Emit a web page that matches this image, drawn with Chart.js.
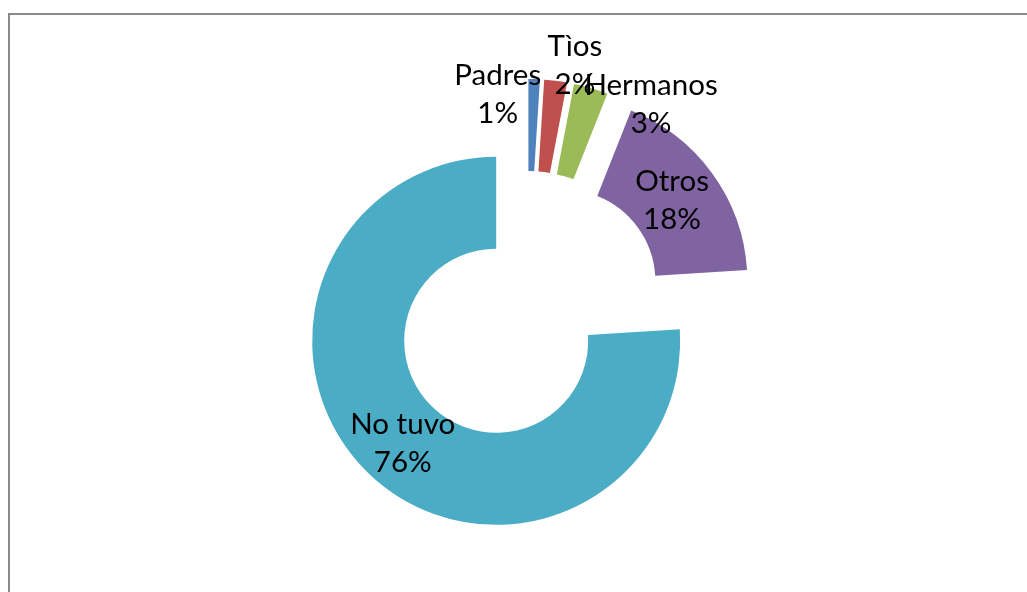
<!DOCTYPE html>
<html>
<head>
<meta charset="utf-8">
<script src="https://cdn.jsdelivr.net/npm/chart.js@4/dist/chart.umd.min.js"></script>
<style>
  body { margin: 0; background: #ffffff; }
  canvas { display: block; }
</style>
</head>
<body>
<canvas id="myChart" width="1027" height="592"></canvas>
<script>
// values (percent of answers)
const categories = ["Padres", "Tìos", "Hermanos", "Otros", "No tuvo"];
const values = [1, 2, 3, 18, 76];
const colors = ["#4F81BD", "#C0504D", "#9BBB59", "#8064A2", "#4BACC6"];

// how far every slice is pulled out from the centre (px)
const EXPLODE = 45;
// label nudges, Excel moved the small ones away from each other
const labelNudge = [[-35, -31], [25, -61], [73, -28], [-3, 0], [1, 2]];

const total = values.reduce((a, b) => a + b, 0);

const framePlugin = {
  id: "frame",
  beforeDraw(chart) {
    const ctx = chart.ctx;
    ctx.save();
    ctx.fillStyle = "#8a8a8a";
    ctx.fillRect(8, 13, 2, chart.height - 13);
    ctx.fillRect(8, 13, chart.width - 8, 2);
    ctx.restore();
  },
};

const explodePlugin = {
  id: "explode",
  beforeDatasetDraw(chart, args) {
    const ctx = chart.ctx;
    args.meta.data.forEach((arc) => {
      const mid = (arc.startAngle + arc.endAngle) / 2;
      ctx.save();
      ctx.translate(Math.cos(mid) * EXPLODE, Math.sin(mid) * EXPLODE);
      arc.draw(ctx);
      ctx.restore();
    });
    return false;
  },
  afterDatasetsDraw(chart) {
    const ctx = chart.ctx;
    const meta = chart.getDatasetMeta(0);
    ctx.save();
    ctx.font = "29.5px Lato, 'Open Sans', sans-serif";
    ctx.fillStyle = "#000000";
    ctx.textAlign = "center";
    ctx.textBaseline = "middle";
    meta.data.forEach((arc, i) => {
      const mid = (arc.startAngle + arc.endAngle) / 2;
      const pos = arc.tooltipPosition();
      const x = pos.x + Math.cos(mid) * EXPLODE + labelNudge[i][0];
      const y = pos.y + Math.sin(mid) * EXPLODE + labelNudge[i][1];
      const pct = Math.round((values[i] / total) * 100) + "%";
      ctx.fillText(categories[i], x, y - 19);
      ctx.fillText(pct, x, y + 19);
    });
    ctx.restore();
  },
};

const ctx1 = document.getElementById("myChart");
new Chart(ctx1, {
  type: "doughnut",
  data: {
    labels: categories,
    datasets: [
      {
        data: values,
        backgroundColor: colors,
        borderWidth: 0,
      },
    ],
  },
  options: {
    responsive: false,
    animation: false,
    events: [],
    radius: 184,
    cutout: "50%",
    layout: {
      padding: { left: 40, right: 13, top: 24, bottom: 0 },
    },
    plugins: {
      legend: { display: false },
      tooltip: { enabled: false },
    },
  },
  plugins: [framePlugin, explodePlugin],
});
</script>
</body>
</html>
